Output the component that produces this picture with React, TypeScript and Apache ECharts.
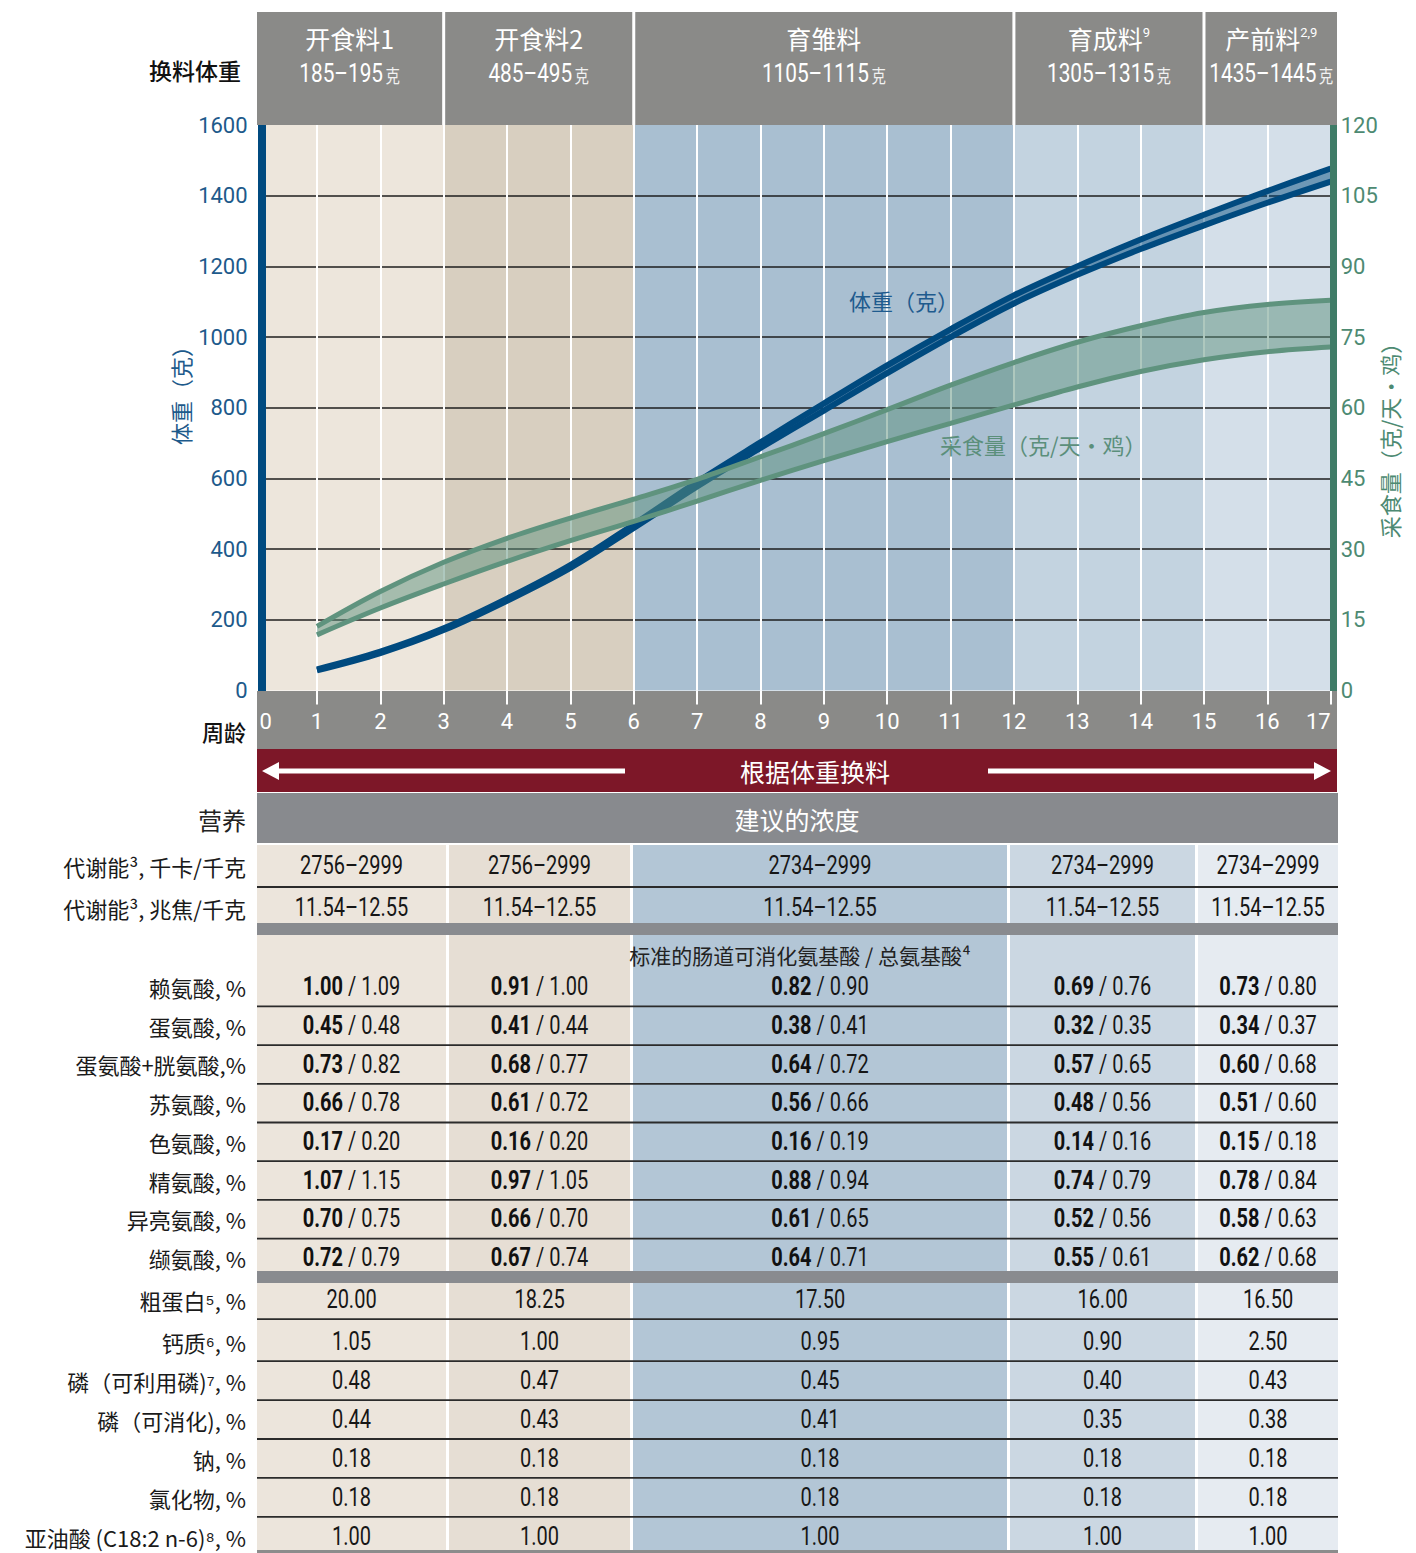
import React, { useEffect, useRef } from 'react';
import * as echarts from 'echarts';

// ---------------- data ----------------
const weekTicks = ['0', '1', '2', '3', '4', '5', '6', '7', '8', '9', '10', '11', '12', '13', '14', '15', '16', '17'];
const weeks = [1, 2, 3, 4, 5, 6, 7, 8, 9, 10, 11, 12, 13, 14, 15, 16, 17];
const bodyWeightUpper = [60, 110, 176, 260, 355, 470, 590, 702, 812, 920, 1022, 1118, 1200, 1276, 1346, 1413, 1477];
const bodyWeightLower = [57, 106, 171, 254, 347, 460, 577, 686, 792, 898, 1000, 1095, 1176, 1249, 1316, 1380, 1440];
const feedUpper = [13.6, 21.0, 27.2, 32.3, 36.6, 40.6, 44.8, 49.6, 54.5, 59.6, 64.8, 69.6, 73.9, 77.4, 80.2, 81.9, 82.8];
const feedLower = [11.8, 17.5, 22.6, 27.4, 31.8, 35.9, 40.2, 44.6, 48.8, 52.8, 56.7, 60.6, 64.4, 67.7, 70.2, 71.9, 72.9];

const phaseNames = ['开食料1', '开食料2', '育雏料', '育成料', '产前料'];
const phaseNotes = ['', '', '', '9', '2,9'];
const phaseWeights = ['185–195', '485–495', '1105–1115', '1305–1315', '1435–1445'];
const phaseWeeks = [['0', '3'], ['3', '6'], ['6', '12'], ['12', '15'], ['15', '17']];

const energyKcal = ['2756–2999', '2756–2999', '2734–2999', '2734–2999', '2734–2999'];
const energyMJ = ['11.54–12.55', '11.54–12.55', '11.54–12.55', '11.54–12.55', '11.54–12.55'];

const aminoLabels = ['赖氨酸, %', '蛋氨酸, %', '蛋氨酸+胱氨酸,%', '苏氨酸, %', '色氨酸, %', '精氨酸, %', '异亮氨酸, %', '缬氨酸, %'];
const aminoDigestible = [
  ['1.00', '0.91', '0.82', '0.69', '0.73'],
  ['0.45', '0.41', '0.38', '0.32', '0.34'],
  ['0.73', '0.68', '0.64', '0.57', '0.60'],
  ['0.66', '0.61', '0.56', '0.48', '0.51'],
  ['0.17', '0.16', '0.16', '0.14', '0.15'],
  ['1.07', '0.97', '0.88', '0.74', '0.78'],
  ['0.70', '0.66', '0.61', '0.52', '0.58'],
  ['0.72', '0.67', '0.64', '0.55', '0.62'],
];
const aminoTotal = [
  ['1.09', '1.00', '0.90', '0.76', '0.80'],
  ['0.48', '0.44', '0.41', '0.35', '0.37'],
  ['0.82', '0.77', '0.72', '0.65', '0.68'],
  ['0.78', '0.72', '0.66', '0.56', '0.60'],
  ['0.20', '0.20', '0.19', '0.16', '0.18'],
  ['1.15', '1.05', '0.94', '0.79', '0.84'],
  ['0.75', '0.70', '0.65', '0.56', '0.63'],
  ['0.79', '0.74', '0.71', '0.61', '0.68'],
];
const otherLabels = ['粗蛋白⁵, %', '钙质⁶, %', '磷（可利用磷)⁷, %', '磷（可消化), %', '钠, %', '氯化物, %', '亚油酸 (C18:2 n-6)⁸, %'];
const otherValues = [
  ['20.00', '18.25', '17.50', '16.00', '16.50'],
  ['1.05', '1.00', '0.95', '0.90', '2.50'],
  ['0.48', '0.47', '0.45', '0.40', '0.43'],
  ['0.44', '0.43', '0.41', '0.35', '0.38'],
  ['0.18', '0.18', '0.18', '0.18', '0.18'],
  ['0.18', '0.18', '0.18', '0.18', '0.18'],
  ['1.00', '1.00', '1.00', '1.00', '1.00'],
];

// ---------------- layout / styles ----------------
const W = 1416;
const H = 1553;
const GL = 253.6;
const GR = 1330.7;
const GT = 125;
const GB = 690.5;
const UW = (GR - GL) / 17;
const px = (w: number) => GL + w * UW;

const LATIN = "Roboto, 'Noto Sans CJK SC', sans-serif";
const CJK = "'Noto Sans CJK SC', sans-serif";
const CONDENSE = 0.8;
const HEADER_GRAY = '#8a8a88';
const ROW_GRAY = '#888a8e';
const RED = '#7d1728';
const BLUE = '#004a7f';
const BLUE_TEXT = '#1d5a8b';
const GREEN = '#5f937e';
const GREEN_TEXT = '#4d8a72';
const bandColors = ['#ede6dc', '#d8cfc0', '#a9bfd1', '#c3d3e0', '#d4dfe9'];
const colColors = ['#ece5dc', '#e6ded4', '#b3c6d6', '#cbd7e2', '#e6ebf1'];
const colEdges = [257, 447.5, 631.5, 1008.5, 1196.5, 1338];

function rect(x: number, y: number, w: number, h: number, fill: string, z = 0) {
  return { type: 'rect', silent: true, z, shape: { x, y, width: w, height: h }, style: { fill } };
}
function line(x1: number, y1: number, x2: number, y2: number, stroke: string, lw: number, z = 6) {
  return { type: 'line', silent: true, z, shape: { x1, y1, x2, y2 }, style: { stroke, lineWidth: lw } };
}
function text(t: string, x: number, y: number, o: any = {}) {
  const align = o.align || 'center';
  return {
    type: 'text',
    silent: true,
    z: o.z ?? 20,
    x,
    y,
    rotation: o.rotation || 0,
    scaleX: o.scaleX || 1,
    style: {
      text: t,
      fill: o.color || '#1a1a1a',
      fontSize: o.size || 22,
      fontFamily: o.family || CJK,
      fontWeight: o.weight || 'normal',
      align,
      textAlign: align,
      verticalAlign: 'middle',
      textVerticalAlign: 'middle',
      rich: o.rich,
    },
  };
}
const num = (t: string, x: number, y: number) =>
  text(t, x, y, { family: LATIN, size: 25, scaleX: CONDENSE, color: '#161616' });

function buildGraphics() {
  const g: any[] = [];

  // header boxes
  phaseWeeks.forEach(([s, e], i) => {
    const x0 = i === 0 ? 257 : px(+s) + 1.5;
    const x1 = i === phaseWeeks.length - 1 ? 1337 : px(+e) - 1.5;
    g.push(rect(x0, 12, x1 - x0, 113, HEADER_GRAY));
    const cx = (x0 + x1) / 2;
    const nm = `{a|${phaseNames[i]}}` + (phaseNotes[i] ? `{s|${phaseNotes[i]}}` : '');
    g.push(text(nm, cx, 38, {
      rich: {
        a: { fontFamily: CJK, fontSize: 25, fill: '#fff' },
        s: { fontFamily: LATIN, fontSize: 13, fill: '#fff', verticalAlign: 'top' },
      },
    }));
    g.push(text(`{n|${phaseWeights[i]}}{k|克}`, cx, 73, {
      scaleX: CONDENSE,
      rich: {
        n: { fontFamily: LATIN, fontSize: 26, fill: '#fff' },
        k: { fontFamily: CJK, fontSize: 18, fill: '#f2f2f2', verticalAlign: 'bottom', padding: [0, 0, 2, 3] },
      },
    }));
  });
  g.push(text('换料体重', 241, 70, { align: 'right', size: 23, weight: 500, color: '#111' }));

  // axis bars and cover
  g.push(rect(248.5, GT, 9.5, 566, '#ffffff', 14));
  g.push(rect(258, GT, 8, 566, BLUE, 15));
  g.push(rect(1330, GT, 7, 566, '#3f7c67', 15));

  // x-axis band
  g.push(rect(257, 691, 1080, 58, HEADER_GRAY, 0));
  g.push(text('周龄', 246, 731, { align: 'right', size: 22, weight: 500, color: '#111' }));

  // axis titles
  g.push(text('体重（克）', 180, 390, { rotation: Math.PI / 2, color: BLUE_TEXT, size: 22 }));
  g.push(text('采食量（克/天・鸡）', 1389, 435, { rotation: Math.PI / 2, color: GREEN_TEXT, size: 22 }));
  // in-chart series labels
  g.push(text('体重（克）', 849, 300, { align: 'left', color: '#1f5b8e', size: 22 }));
  g.push(text('采食量（克/天・鸡）', 940, 444, { align: 'left', color: '#5b8f7b', size: 22 }));

  // red banner
  g.push(rect(257, 749, 1080, 43, RED));
  g.push(line(274, 771, 625, 771, '#ffffff', 5, 8));
  g.push({ type: 'polygon', silent: true, z: 8, shape: { points: [[262, 771], [279, 762], [279, 780]] }, style: { fill: '#ffffff' } });
  g.push(line(988, 771, 1316, 771, '#ffffff', 5, 8));
  g.push({ type: 'polygon', silent: true, z: 8, shape: { points: [[1331, 771], [1314, 762], [1314, 780]] }, style: { fill: '#ffffff' } });
  g.push(text('根据体重换料', 815, 771, { color: '#ffffff', size: 25 }));

  // nutrient header row
  g.push(rect(257, 793, 1081, 50, ROW_GRAY));
  g.push(text('建议的浓度', 797, 819, { color: '#ffffff', size: 25 }));
  g.push(text('营养', 246, 819, { align: 'right', size: 24, color: '#222' }));

  // table columns
  const cols = colEdges.slice(0, 5).map((e, i) => {
    const x0 = e + (i > 0 ? 1.5 : 0);
    const x1 = colEdges[i + 1] - (i < 4 ? 1.5 : 0);
    return [x0, x1];
  });
  cols.forEach(([x0, x1], i) => g.push(rect(x0, 845, x1 - x0, 706, colColors[i])));
  const centers = cols.map(([x0, x1]) => (x0 + x1) / 2);
  g.push(rect(257, 923, 1081, 12, '#898b8f', 2));
  g.push(rect(257, 1271, 1081, 12, '#898b8f', 2));
  g.push(rect(257, 1550, 1081, 3, '#8c8c8c', 2));

  const LBL_X = 246;
  const valRich = {
    b: { fontFamily: LATIN, fontSize: 25, fontWeight: 'bold', fill: '#111' },
    n: { fontFamily: LATIN, fontSize: 25, fill: '#161616' },
  };

  // energy rows
  g.push(text('代谢能³, 千卡/千克', LBL_X, 866, { align: 'right' }));
  g.push(text('代谢能³, 兆焦/千克', LBL_X, 908, { align: 'right' }));
  energyKcal.forEach((v, i) => g.push(num(v, centers[i], 866)));
  energyMJ.forEach((v, i) => g.push(num(v, centers[i], 908)));
  g.push(line(257, 887, 1338, 887, '#2b2b2b', 1.8));

  // amino acids
  g.push(text('标准的肠道可消化氨基酸 / 总氨基酸⁴', 800, 955, { size: 21, color: '#222' }));
  const aminoY = (i: number) => 987 + i * 38.7;
  aminoLabels.forEach((lab, r) => {
    const y = aminoY(r);
    g.push(text(lab, LBL_X, y, { align: 'right' }));
    aminoDigestible[r].forEach((d, c) => {
      g.push(text(`{b|${d}}{n| / ${aminoTotal[r][c]}}`, centers[c], y, { rich: valRich, scaleX: CONDENSE }));
    });
    if (r < aminoLabels.length - 1) g.push(line(257, y + 19.4, 1338, y + 19.4, '#2b2b2b', 1.8));
  });

  // other nutrients
  const otherY = (i: number) => (i === 0 ? 1300 : 1342 + (i - 1) * 38.9);
  otherLabels.forEach((lab, r) => {
    const y = otherY(r);
    g.push(text(lab, LBL_X, y, { align: 'right' }));
    otherValues[r].forEach((v, c) => g.push(num(v, centers[c], y)));
    if (r < otherLabels.length - 1) g.push(line(257, y + 19.2, 1338, y + 19.2, '#2b2b2b', 1.8));
  });

  return g;
}

function buildOption() {
  const byWeek = (arr: number[]) =>
    weekTicks.map((t) => {
      const i = weeks.indexOf(Number(t));
      return i < 0 ? '-' : arr[i];
    });
  const diff = (a: number[], b: number[]) => byWeek(a.map((v, i) => +(v - b[i]).toFixed(2)));
  const SM = 0.35;
  const axisFont = { fontFamily: LATIN, fontSize: 22 };
  const common = { type: 'line', symbol: 'none', smooth: SM, silent: true, connectNulls: false };

  return {
    animation: false,
    backgroundColor: '#ffffff',
    grid: { left: GL, right: W - GR, top: GT, bottom: H - GB, containLabel: false },
    xAxis: {
      type: 'category', data: weekTicks, boundaryGap: false, z: 3,
      axisLine: { show: false },
      axisTick: { show: true, interval: 0, length: 14, lineStyle: { color: '#ffffff', width: 2 } },
      axisLabel: {
        ...axisFont, color: '#ffffff', margin: 20, interval: 0,
        alignMinLabel: 'left', alignMaxLabel: 'right',
        formatter: (v: string) => (v === '0' ? '{z|0}' : v),
        rich: { z: { ...axisFont, color: '#ffffff', padding: [0, 0, 0, 6] } },
      },
      splitLine: { show: true, interval: 0, showMinLine: false, showMaxLine: false, lineStyle: { color: '#ffffff', width: 2 } },
    },
    yAxis: [
      {
        type: 'value', min: 0, max: 1600, interval: 200, z: 3,
        axisLine: { show: false }, axisTick: { show: false },
        axisLabel: { ...axisFont, color: BLUE_TEXT, margin: 6, formatter: (v: number) => String(v) },
        splitLine: { show: true, showMinLine: false, showMaxLine: false, lineStyle: { color: '#1e1e1e', width: 1.5 } },
      },
      {
        type: 'value', position: 'right', min: 0, max: 120, interval: 15, z: 3,
        axisLine: { show: false }, axisTick: { show: false },
        axisLabel: { ...axisFont, color: GREEN_TEXT, margin: 10, formatter: (v: number) => String(v) },
        splitLine: { show: false },
      },
    ],
    series: [
      {
        ...common, name: 'bwLower', yAxisIndex: 0, data: byWeek(bodyWeightLower),
        lineStyle: { color: BLUE, width: 6 }, z: 10,
        markArea: {
          silent: true, z: 1, label: { show: false },
          data: phaseWeeks.map(([s, e], i) => [
            { xAxis: s, itemStyle: { color: bandColors[i], opacity: 1, borderWidth: 0 } },
            { xAxis: e },
          ]),
        },
      },
      {
        ...common, name: 'bwBase', yAxisIndex: 0, stack: 'bw', data: byWeek(bodyWeightLower),
        lineStyle: { width: 0, opacity: 0 }, z: 9,
      },
      {
        ...common, name: 'bwBand', yAxisIndex: 0, stack: 'bw', data: diff(bodyWeightUpper, bodyWeightLower),
        lineStyle: { width: 0, opacity: 0 }, areaStyle: { color: 'rgba(0,75,128,0.48)', opacity: 1 }, z: 9,
      },
      {
        ...common, name: 'bwUpper', yAxisIndex: 0, data: byWeek(bodyWeightUpper),
        lineStyle: { color: BLUE, width: 6 }, z: 10,
      },
      {
        ...common, name: 'fiBase', yAxisIndex: 1, stack: 'fi', data: byWeek(feedLower),
        lineStyle: { width: 0, opacity: 0 }, z: 11,
      },
      {
        ...common, name: 'fiBand', yAxisIndex: 1, stack: 'fi', data: diff(feedUpper, feedLower),
        lineStyle: { width: 0, opacity: 0 }, areaStyle: { color: 'rgba(94,145,125,0.5)', opacity: 1 }, z: 11,
      },
      {
        ...common, name: 'fiLower', yAxisIndex: 1, data: byWeek(feedLower),
        lineStyle: { color: GREEN, width: 5 }, z: 12,
      },
      {
        ...common, name: 'fiUpper', yAxisIndex: 1, data: byWeek(feedUpper),
        lineStyle: { color: GREEN, width: 5 }, z: 12,
      },
    ],
    graphic: { elements: buildGraphics() },
  };
}

export default function App() {
  const ref = useRef<HTMLDivElement>(null);
  useEffect(() => {
    if (!ref.current) return;
    const chart = echarts.init(ref.current, undefined, { renderer: 'svg', width: W, height: H });
    chart.setOption(buildOption() as any);
    return () => chart.dispose();
  }, []);
  return (
    <div
      ref={ref}
      style={{ position: 'absolute', left: 0, top: 0, width: W, height: H, background: '#ffffff' }}
    />
  );
}
